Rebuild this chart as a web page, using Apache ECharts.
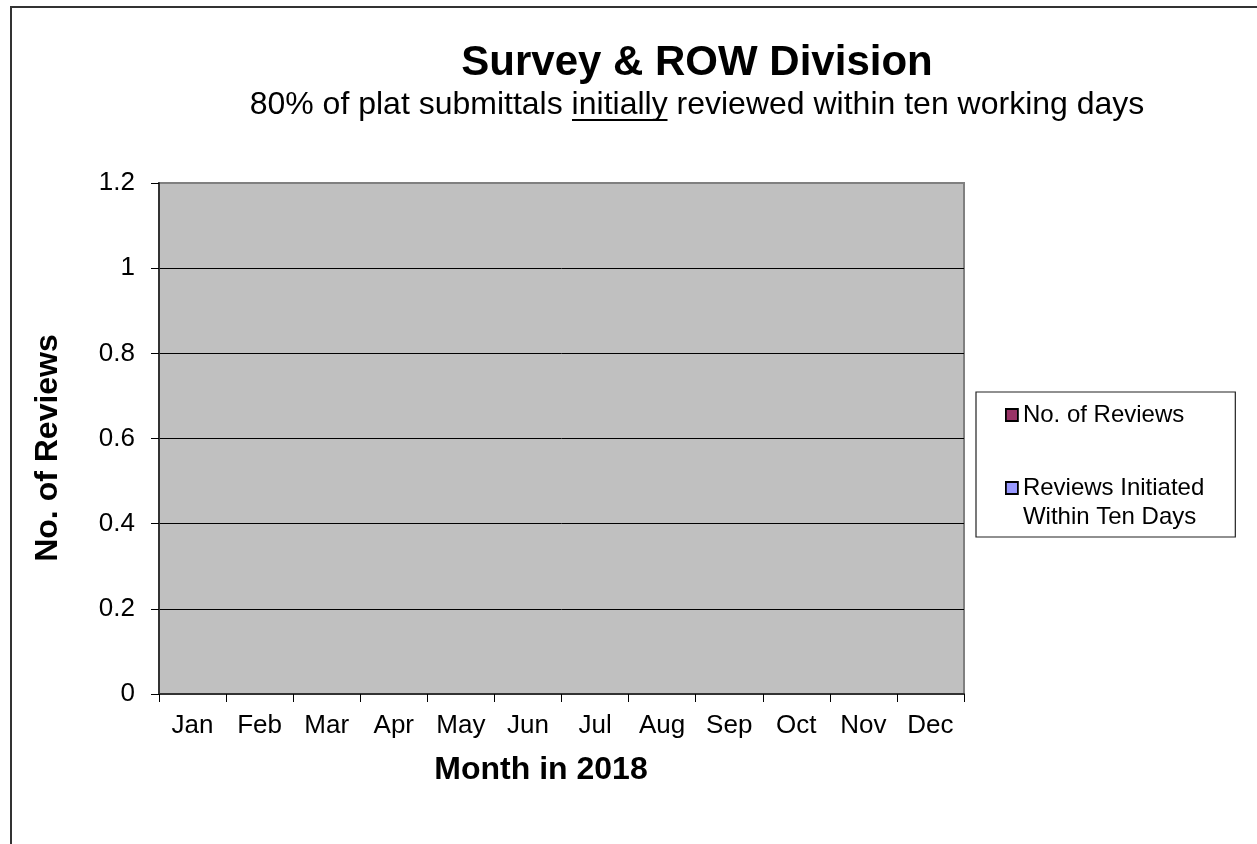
<!DOCTYPE html>
<html>
<head>
<meta charset="utf-8">
<script src="https://cdn.jsdelivr.net/npm/echarts@6/dist/echarts.min.js"></script>
<style>
html,body{margin:0;padding:0;background:#fff;}
#chart{width:1257px;height:844px;}
</style>
</head>
<body>
<div id="chart"></div>
<script>
const months = ['Jan','Feb','Mar','Apr','May','Jun','Jul','Aug','Sep','Oct','Nov','Dec'];
const reviews = [null,null,null,null,null,null,null,null,null,null,null,null];
const initiatedWithinTen = [null,null,null,null,null,null,null,null,null,null,null,null];
const yTicks = {min: 0, max: 1.2, interval: 0.2};
const seriesNames = ['No. of Reviews', 'Reviews Initiated\nWithin Ten Days'];

const FONT = '"Liberation Sans", Arial, sans-serif';
const chart = echarts.init(document.getElementById('chart'), null, {renderer: 'canvas'});

chart.setOption({
  backgroundColor: '#ffffff',
  animation: false,
  textStyle: {fontFamily: FONT, color: '#000'},
  title: [
    {
      text: 'Survey & ROW Division',
      left: 697, top: 42, padding: 0, textAlign: 'center',
      textStyle: {fontFamily: FONT, fontSize: 42, fontWeight: 'bold', color: '#000', lineHeight: 42}
    },
    {
      text: '80% of plat submittals initially reviewed within ten working days',
      left: 697, top: 89.5, padding: 0, textAlign: 'center',
      textStyle: {fontFamily: FONT, fontSize: 32, fontWeight: 'normal', color: '#000', lineHeight: 32}
    }
  ],
  graphic: [
    {type: 'rect', silent: true, z: -1,
     shape: {x: 11, y: 7, width: 1400, height: 1000},
     style: {fill: 'none', stroke: '#333', lineWidth: 2}},
    {type: 'line', silent: true,
     shape: {x1: 572, y1: 120, x2: 667.5, y2: 120},
     style: {stroke: '#000', lineWidth: 2}}
  ],
  legend: {
    orient: 'vertical',
    left: 976, top: 392,
    padding: [8.5, 31, 5.5, 29],
    itemGap: 15,
    itemWidth: 12, itemHeight: 12,
    borderColor: '#222', borderWidth: 1.2,
    backgroundColor: '#fff',
    icon: 'rect',
    itemStyle: {borderColor: '#000', borderWidth: 1.8},
    formatter: function (name) { return name.indexOf('\n') >= 0 ? '\n' + name : name; },
    textStyle: {fontFamily: FONT, fontSize: 24, lineHeight: 29, color: '#000'},
    data: seriesNames
  },
  grid: {
    left: 159, right: 293, top: 183, bottom: 150,
    show: true, backgroundColor: '#C0C0C0', borderColor: '#808080', borderWidth: 2
  },
  xAxis: {
    type: 'category',
    data: months,
    boundaryGap: true,
    name: 'Month in 2018',
    nameLocation: 'middle',
    nameGap: 60,
    nameTextStyle: {fontFamily: FONT, fontSize: 32, fontWeight: 'bold', color: '#000', lineHeight: 32, padding: [0, 41, 0, 0]},
    axisLine: {lineStyle: {color: '#333', width: 2}},
    axisTick: {show: true, inside: false, length: 8, alignWithLabel: false, lineStyle: {color: '#000', width: 1}},
    axisLabel: {fontFamily: FONT, fontSize: 26, color: '#000', margin: 19, interval: 0},
    splitLine: {show: false}
  },
  yAxis: {
    type: 'value',
    min: yTicks.min, max: yTicks.max, interval: yTicks.interval,
    name: 'No. of Reviews',
    nameLocation: 'middle',
    nameGap: 95,
    nameRotate: 90,
    nameTextStyle: {fontFamily: FONT, fontSize: 32, fontWeight: 'bold', color: '#000', lineHeight: 32, padding: [0, 19, 0, 0]},
    axisLine: {show: true, lineStyle: {color: '#333', width: 2}},
    axisTick: {show: true, inside: false, length: 8, lineStyle: {color: '#000', width: 1}},
    axisLabel: {fontFamily: FONT, fontSize: 26, color: '#000', margin: 24,
      formatter: function (v) { return String(Math.round(v * 10) / 10); }},
    splitLine: {show: true, lineStyle: {color: ['#333', '#000', '#000', '#000', '#000', '#000', '#808080'], width: 1}}
  },
  series: [
    {name: seriesNames[0], type: 'bar', data: reviews, itemStyle: {color: '#993366', borderColor: '#000', borderWidth: 1}},
    {name: seriesNames[1], type: 'bar', data: initiatedWithinTen, itemStyle: {color: '#9999FF', borderColor: '#000', borderWidth: 1}}
  ]
});
</script>
</body>
</html>
